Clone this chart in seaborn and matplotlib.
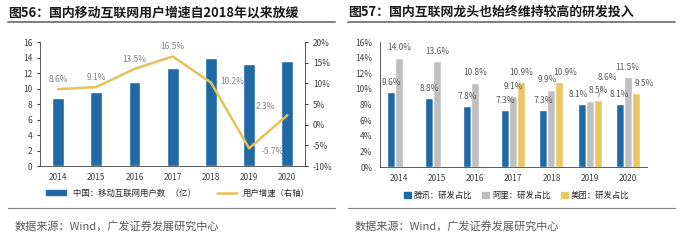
import numpy as np
import pandas as pd
import matplotlib
matplotlib.use('Agg')
import matplotlib.pyplot as plt
import seaborn as sns
from matplotlib.lines import Line2D
from matplotlib.patches import Patch

# data
years = ['2014', '2015', '2016', '2017', '2018', '2019', '2020']
users = [8.8, 9.6, 10.9, 12.7, 14.0, 13.2, 13.5]          # 亿
growth = [8.6, 9.1, 13.5, 16.5, 10.2, -5.7, 2.3]           # %
tencent = [9.6, 8.8, 7.8, 7.3, 7.3, 8.1, 8.1]
alibaba = [14.0, 13.6, 10.8, 9.1, 9.9, 8.5, 11.5]
meituan = [np.nan, np.nan, np.nan, 10.9, 10.9, 8.6, 9.5]
companies = ['腾讯：研发占比', '阿里：研发占比', '美团：研发占比']

sns.set_style('white')
plt.rcParams['font.family'] = ['Noto Sans CJK SC', 'DejaVu Sans']
plt.rcParams['axes.unicode_minus'] = False

BLUE = '#1F6AA5'
GREY = '#BFBFBF'
YELLOW = '#E8C766'
LINE = '#E5C15A'
TXT = '#404040'

fig = plt.figure(figsize=(6.8, 2.4), dpi=100)

# ---------- left chart ----------
ax1 = fig.add_axes([0.059, 0.308, 0.39, 0.517])
df1 = pd.DataFrame({'year': years, 'users': users, 'growth': growth})
sns.barplot(data=df1, x='year', y='users', color=BLUE, width=0.31, saturation=1, ax=ax1)
ax1.set_ylim(0, 16)
ax1.set_yticks(range(0, 17, 2))
ax1.set_xlabel('')
ax1.set_ylabel('')
ax2 = ax1.twinx()
sns.lineplot(data=df1, x='year', y='growth', color=LINE, linewidth=1.8, ax=ax2)
ax2.set_ylim(-10, 20)
ax2.set_yticks(range(-10, 21, 5))
ax2.set_yticklabels([f'{v}%' for v in range(-10, 21, 5)])
ax2.set_ylabel('')
offs = [(0, 7), (0, 7), (0, 7), (0, 7), (7, 1), (9, -2), (-9, 6)]
has = ['center', 'center', 'center', 'center', 'left', 'left', 'right']
for i, (g, o, h) in enumerate(zip(growth, offs, has)):
    ax2.annotate(f'{g}%', (i, g), xytext=o, textcoords='offset points',
                 ha=h, va='center', fontsize=6, color='#808080')
for a in (ax1, ax2):
    for s in a.spines.values():
        s.set_visible(False)
    a.tick_params(labelsize=6, colors=TXT, length=2)
ax1.spines['left'].set_visible(True)
ax1.spines['bottom'].set_visible(True)
ax2.spines['right'].set_visible(True)
for s in ('left', 'bottom'):
    ax1.spines[s].set_color('#404040')
    ax1.spines[s].set_linewidth(0.6)
ax2.spines['right'].set_color('#404040')
ax2.spines['right'].set_linewidth(0.6)
ax1.tick_params(axis='x', length=0, pad=5)

h1 = [Patch(color=BLUE), Line2D([], [], color=LINE, lw=1.8)]
fig.legend(h1, ['中国：移动互联网用户数   （亿）', '用户增速（右轴）'],
           loc='center', bbox_to_anchor=(0.262, 0.195), ncol=2, frameon=False,
           fontsize=6, handlelength=2.4, handleheight=0.5, columnspacing=2.5)

# ---------- right chart ----------
ax3 = fig.add_axes([0.559, 0.304, 0.392, 0.521])
df2 = pd.DataFrame({'year': years * 3,
                    'company': [companies[0]] * 7 + [companies[1]] * 7 + [companies[2]] * 7,
                    'value': tencent + alibaba + meituan})
sns.barplot(data=df2, x='year', y='value', hue='company', palette=[BLUE, GREY, YELLOW],
            width=0.63, saturation=1, ax=ax3, legend=False)
ax3.set_ylim(0, 16)
ax3.set_yticks(range(0, 17, 2))
ax3.set_yticklabels([f'{v}%' for v in range(0, 17, 2)])
ax3.set_xlabel('')
ax3.set_ylabel('')
# label nudges (points) for crowded groups: (series, year index) -> (dx, dy)
nudge = {(1, 4): (-3, 7), (2, 4): (4, 7), (0, 5): (-2, 7), (1, 5): (6, 7),
         (2, 5): (7, 16), (2, 6): (6, 7)}
for k, cont in enumerate(ax3.containers):
    for bar in cont:
        h = bar.get_height()
        if np.isnan(h) or h == 0:
            continue
        xc = bar.get_x() + bar.get_width() / 2
        i = int(round(xc))
        dx, dy = nudge.get((k, i), (0, 7))
        ax3.annotate(f'{h:.1f}%', (xc, h), xytext=(dx, dy),
                     textcoords='offset points', ha='center', va='center',
                     fontsize=6, color='#595959')
        if (k, i) == (2, 5):
            ax3.annotate('', (xc, h), xytext=(dx - 3, dy - 4), textcoords='offset points',
                         arrowprops=dict(arrowstyle='-', color='#808080', lw=0.5))
for s in ('top', 'right'):
    ax3.spines[s].set_visible(False)
for s in ('left', 'bottom'):
    ax3.spines[s].set_color('#404040')
    ax3.spines[s].set_linewidth(0.6)
ax3.tick_params(labelsize=6, colors=TXT, length=2)
ax3.tick_params(axis='x', length=0, pad=5)

h2 = [Patch(color=c) for c in (BLUE, GREY, YELLOW)]
fig.legend(h2, companies, loc='center', bbox_to_anchor=(0.76, 0.187), ncol=3,
           frameon=False, fontsize=6, handlelength=0.8, handleheight=0.8,
           handletextpad=0.4, columnspacing=1.2)

# ---------- titles, rules, source ----------
fig.text(0.012, 0.95, '图56：国内移动互联网用户增速自2018年以来放缓', fontsize=9.3,
         fontweight='bold', va='center', color='#1a1a1a')
fig.text(0.512, 0.95, '图57：国内互联网龙头也始终维持较高的研发投入', fontsize=9.3,
         fontweight='bold', va='center', color='#1a1a1a')
for x0, x1 in ((0.012, 0.492), (0.512, 0.992)):
    fig.add_artist(Line2D([x0, x1], [0.908, 0.908], color='#7f7f7f', lw=1.4))
    fig.add_artist(Line2D([x0, x1], [0.132, 0.132], color='#7f7f7f', lw=0.8))
fig.text(0.022, 0.055, '数据来源：Wind，广发证券发展研究中心', fontsize=8, va='center', color='#595959')
fig.text(0.522, 0.055, '数据来源：Wind，广发证券发展研究中心', fontsize=8, va='center', color='#595959')

plt.savefig('out.png', dpi=100)
